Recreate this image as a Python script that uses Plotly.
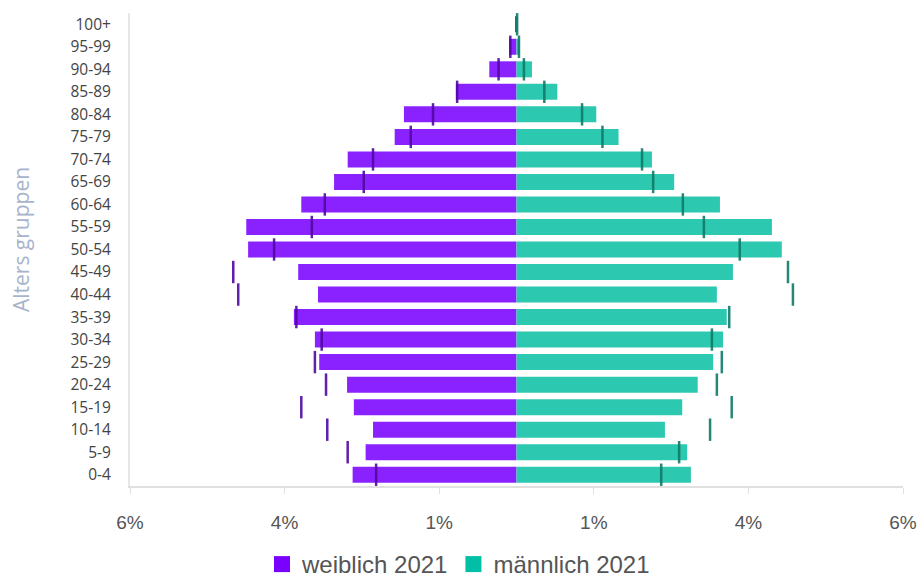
import plotly.graph_objects as go

age_groups = ["0-4", "5-9", "10-14", "15-19", "20-24", "25-29", "30-34", "35-39",
              "40-44", "45-49", "50-54", "55-59", "60-64", "65-69", "70-74", "75-79",
              "80-84", "85-89", "90-94", "95-99", "100+"]

female_2021 = [2.65, 2.44, 2.32, 2.63, 2.74, 3.19, 3.26, 3.60, 3.21, 3.53, 4.34,
               4.37, 3.48, 2.95, 2.73, 1.97, 1.82, 0.98, 0.44, 0.12, 0.01]
male_2021 = [2.82, 2.76, 2.40, 2.68, 2.93, 3.18, 3.34, 3.40, 3.24, 3.50, 4.29,
             4.13, 3.29, 2.55, 2.19, 1.65, 1.29, 0.66, 0.25, 0.05, 0.02]

female_ref = [2.27, 2.73, 3.06, 3.48, 3.08, 3.26, 3.15, 3.56, 4.50, 4.58, 3.92,
              3.31, 3.10, 2.47, 2.32, 1.71, 1.35, 0.96, 0.29, 0.10, None]
male_ref = [2.34, 2.63, 3.13, 3.48, 3.24, 3.32, 3.16, 3.44, 4.47, 4.39, 3.61,
            3.03, 2.69, 2.21, 2.03, 1.39, 1.06, 0.45, 0.12, 0.04, 0.01]

tick_vals = [-6.25, -3.75, -1.25, 1.25, 3.75, 6.25]
tick_text = ["6%", "4%", "1%", "1%", "4%", "6%"]

fig = go.Figure()
fig.add_trace(go.Bar(
    y=age_groups, x=[-v for v in female_2021], orientation="h",
    name="weiblich 2021", legendgroup="w", showlegend=False,
    marker=dict(color="#8A22FF", line=dict(width=0)),
))
fig.add_trace(go.Bar(
    y=age_groups, x=male_2021, orientation="h",
    name="männlich 2021", legendgroup="m", showlegend=False,
    marker=dict(color="#2CC8AF", line=dict(width=0)),
))
fig.add_trace(go.Scatter(
    y=age_groups, x=[(-v if v is not None else None) for v in female_ref],
    mode="markers", showlegend=False, hoverinfo="skip",
    marker=dict(symbol="line-ns", size=16,
                line=dict(width=2.5, color="rgba(80,8,160,0.9)")),
))
fig.add_trace(go.Scatter(
    y=age_groups, x=male_ref,
    mode="markers", showlegend=False, hoverinfo="skip",
    marker=dict(symbol="line-ns", size=16,
                line=dict(width=2.5, color="rgba(14,122,104,0.9)")),
))
# legend entries (large square swatches like the reference)
fig.add_trace(go.Scatter(x=[None], y=[None], mode="markers", name="weiblich 2021",
                         legendgroup="w",
                         marker=dict(symbol="square", size=21, color="#7A00FF")))
fig.add_trace(go.Scatter(x=[None], y=[None], mode="markers", name="männlich 2021",
                         legendgroup="m",
                         marker=dict(symbol="square", size=21, color="#00BFA5")))

fig.update_layout(
    width=917, height=587,
    margin=dict(l=130, r=14, t=13, b=101),
    paper_bgcolor="white", plot_bgcolor="white",
    barmode="overlay", bargap=0.29,
    font=dict(family="Liberation Sans, Arial, sans-serif", color="#555555"),
    legend=dict(orientation="h", xref="container", x=0.5, xanchor="center",
                yref="container", y=0.0, yanchor="bottom",
                font=dict(size=24, color="#555555"), itemsizing="trace",
                itemwidth=30, tracegroupgap=0, traceorder="normal"),
    xaxis=dict(range=[-6.25, 6.25], tickvals=tick_vals, ticktext=tick_text,
               showgrid=False, zeroline=False, showline=True, linecolor="#E0E0E0",
               linewidth=2, ticks="outside", ticklen=6, tickcolor="#E0E0E0",
               ticklabelstandoff=12, ticklabeloverflow="allow",
               tickfont=dict(size=19, color="#555555"), automargin=False),
    yaxis=dict(categoryorder="array", categoryarray=age_groups, range=[-0.5, 20.5],
               showgrid=False, zeroline=False, showline=True, linecolor="#E6E6E6",
               linewidth=2, ticks="", ticklabelstandoff=14, automargin=False,
               tickfont=dict(family="Open Sans, Noto Sans, sans-serif", size=15.5, color="#444444")),
    annotations=[dict(text="Alters gruppen", textangle=-90, xref="paper", yref="paper",
                      x=-0.141, y=0.52, xanchor="center", yanchor="middle", showarrow=False,
                      font=dict(family="Open Sans, Noto Sans, sans-serif", size=21, color="#A7B4CC"))],
)

fig.write_html("out.html", config={"displayModeBar": False},
               post_script="document.body.style.margin='0px';")
